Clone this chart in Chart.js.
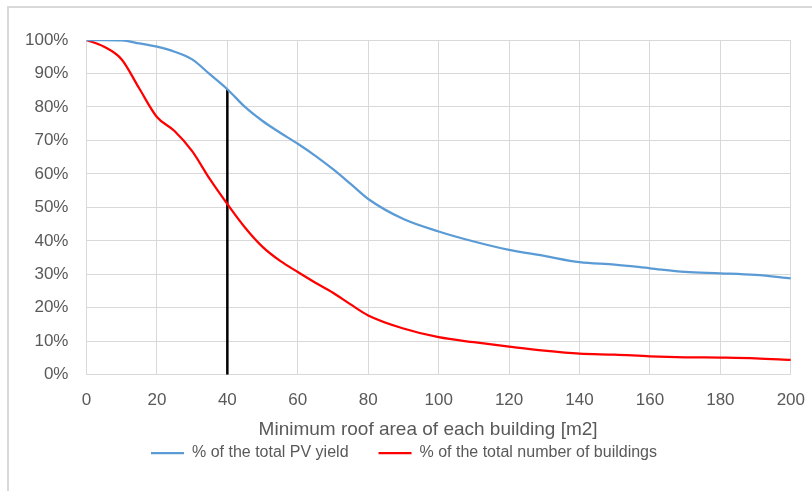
<!DOCTYPE html>
<html>
<head>
<meta charset="utf-8">
<script src="https://cdn.jsdelivr.net/npm/chart.js@4/dist/chart.umd.min.js"></script>
<style>
  html, body { margin: 0; padding: 0; background: #fff; overflow: hidden; }
  #wrap { position: relative; width: 812px; height: 491px; }
</style>
</head>
<body>
<div id="wrap"><canvas id="c" width="812" height="491"></canvas></div>
<script>
// ---- data ----
const roofArea = [0,5,10,15,20,25,30,35,40,45,50,55,60,65,70,75,80,90,100,110,120,130,140,150,160,170,180,190,200];
const pvYield  = [100,100,99.9,99.0,98.0,96.5,94.2,89.8,85.3,80.0,75.8,72.3,69.0,65.4,61.4,57.0,52.5,46.5,42.8,39.8,37.3,35.5,33.6,32.9,31.8,30.7,30.3,29.8,28.8];
const buildings = [100,98.0,94.2,85.5,77.0,72.8,66.8,58.5,51.0,44.0,38.2,34.0,30.7,27.5,24.5,21.0,17.7,13.8,11.2,9.7,8.4,7.2,6.3,6.0,5.5,5.2,5.1,4.9,4.4];
const markerX = [40, 40];
const markerY = [0, 85.3];
const seriesNames = ['% of the total PV yield', '% of the total number of buildings'];
const xTitle = 'Minimum roof area of each building [m2]';

const toPts = (xs, ys) => xs.map((x, i) => ({ x: x, y: ys[i] }));

const framePlugin = {
  id: 'frame',
  beforeDraw(chart) {
    const ctx = chart.ctx;
    ctx.save();
    ctx.fillStyle = '#ffffff';
    ctx.fillRect(0, 0, chart.width, chart.height);
    ctx.strokeStyle = '#d9d9d9';
    ctx.lineWidth = 2;
    ctx.beginPath();
    ctx.moveTo(8, chart.height + 2);
    ctx.lineTo(8, 7);
    ctx.lineTo(chart.width + 2, 7);
    ctx.stroke();
    ctx.restore();
  }
};

const FONT = "'Liberation Sans', Arial, sans-serif";
const TXT = '#595959';

new Chart(document.getElementById('c'), {
  type: 'line',
  data: {
    datasets: [
      {
        label: seriesNames[0],
        data: toPts(roofArea, pvYield),
        borderColor: '#5b9bd5',
        backgroundColor: '#5b9bd5',
        borderWidth: 2.25,
        pointRadius: 0,
        tension: 0.4,
        cubicInterpolationMode: 'monotone',
        fill: false
      },
      {
        label: seriesNames[1],
        data: toPts(roofArea, buildings),
        borderColor: '#ff0000',
        backgroundColor: '#ff0000',
        borderWidth: 2.25,
        pointRadius: 0,
        tension: 0.4,
        cubicInterpolationMode: 'monotone',
        fill: false
      },
      {
        label: 'marker',
        data: toPts(markerX, markerY),
        borderColor: '#000000',
        borderWidth: 2.5,
        pointRadius: 0,
        tension: 0,
        fill: false
      }
    ]
  },
  options: {
    responsive: false,
    animation: false,
    devicePixelRatio: 1,
    layout: { padding: { left: 7, right: 11, top: 40, bottom: 20 } },
    scales: {
      x: {
        type: 'linear',
        min: 0, max: 200,
        ticks: { stepSize: 20, color: TXT, font: { family: FONT, size: 17 }, padding: 7, maxRotation: 0 },
        grid: { color: '#d9d9d9', lineWidth: 1, drawTicks: true, tickLength: 8, tickColor: 'rgba(0,0,0,0)' },
        border: { color: '#d9d9d9', width: 1 },
        title: { display: true, text: xTitle + '\u00a0\u00a0\u00a0\u00a0', color: TXT, font: { family: FONT, size: 19, lineHeight: 1.1 }, padding: { top: 2, bottom: -25 } }
      },
      y: {
        min: 0, max: 100,
        ticks: { stepSize: 10, color: TXT, font: { family: FONT, size: 17 }, padding: 18, callback: v => v + '%' },
        grid: { color: '#d9d9d9', lineWidth: 1, drawTicks: false },
        border: { display: false }
      }
    },
    plugins: {
      legend: {
        position: 'bottom',
        labels: {
          color: TXT,
          font: { family: FONT, size: 16 },
          usePointStyle: true,
          pointStyle: 'line',
          pointStyleWidth: 33,
          padding: 30,
          filter: item => item.datasetIndex < 2
        }
      },
      tooltip: { enabled: false }
    }
  },
  plugins: [framePlugin]
});
</script>
</body>
</html>
